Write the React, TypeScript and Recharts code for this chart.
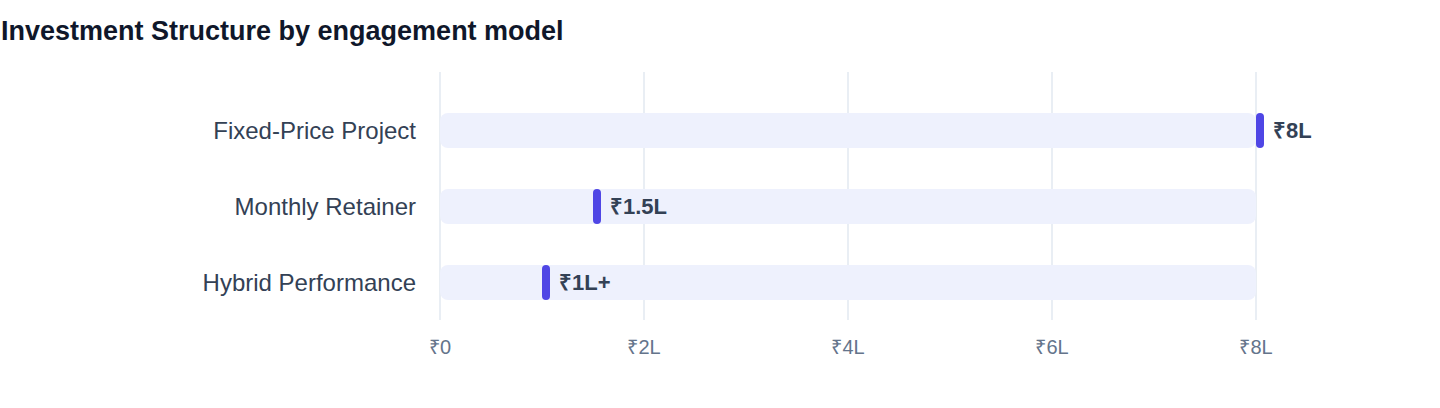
import React from "react";
import {
  BarChart,
  Bar,
  XAxis,
  YAxis,
  CartesianGrid,
  LabelList,
} from "recharts";

const categories = ["Fixed-Price Project", "Monthly Retainer", "Hybrid Performance"];
const values = [8, 1.5, 1];
const valueLabels = ["₹8L", "₹1.5L", "₹1L+"];
const xTicks = [0, 2, 4, 6, 8];
const xTickLabels = ["₹0", "₹2L", "₹4L", "₹6L", "₹8L"];

const data = categories.map((name, i) => ({
  name,
  value: values[i],
  label: valueLabels[i],
}));

const FONT = '"Liberation Sans", Arial, Helvetica, sans-serif';

const Marker = (props: any) => {
  const { x, y, width, height } = props;
  return (
    <rect
      x={x + width}
      y={y}
      width={8}
      height={height}
      rx={4}
      ry={4}
      fill="#4f46e5"
    />
  );
};

const ValueLabel = (props: any) => {
  const { x, y, width, height, value } = props;
  return (
    <text
      x={x + width + 17}
      y={y + height / 2}
      dominantBaseline="central"
      fontSize={22}
      fontWeight={700}
      fill="#334155"
      fontFamily={FONT}
    >
      {value}
    </text>
  );
};

export default function App() {
  return (
    <div
      style={{
        position: "absolute",
        left: 0,
        top: 0,
        width: 1440,
        height: 408,
        background: "#ffffff",
        fontFamily: FONT,
      }}
    >
      <div
        style={{
          position: "absolute",
          left: 1,
          top: 16,
          fontSize: 27,
          fontWeight: 700,
          color: "#0f172a",
          lineHeight: "30px",
          whiteSpace: "nowrap",
        }}
      >
        Investment Structure by engagement model
      </div>
      <BarChart
        width={1440}
        height={408}
        data={data}
        layout="vertical"
        margin={{ top: 72, right: 184, bottom: 58, left: 0 }}
      >
        <CartesianGrid
          horizontal={false}
          stroke="#e2e8f0"
          strokeWidth={1.5}
        />
        <XAxis
          type="number"
          domain={[0, 8]}
          ticks={xTicks}
          tickFormatter={(v: number) => xTickLabels[xTicks.indexOf(v)]}
          axisLine={false}
          tickLine={false}
          tickSize={0}
          tickMargin={20}
          height={30}
          tick={{ fill: "#64748b", fontSize: 20, fontFamily: FONT }}
        />
        <YAxis
          type="category"
          dataKey="name"
          width={440}
          axisLine={false}
          tickLine={false}
          tickSize={0}
          tickMargin={24}
          padding={{ top: 20, bottom: 0 }}
          tick={{ fill: "#334155", fontSize: 24, fontFamily: FONT }}
        />
        <Bar
          dataKey="value"
          barSize={35}
          isAnimationActive={false}
          background={{ fill: "#eef1fd", radius: 8 }}
          shape={Marker}
        >
          <LabelList dataKey="label" content={ValueLabel} />
        </Bar>
      </BarChart>
    </div>
  );
}
